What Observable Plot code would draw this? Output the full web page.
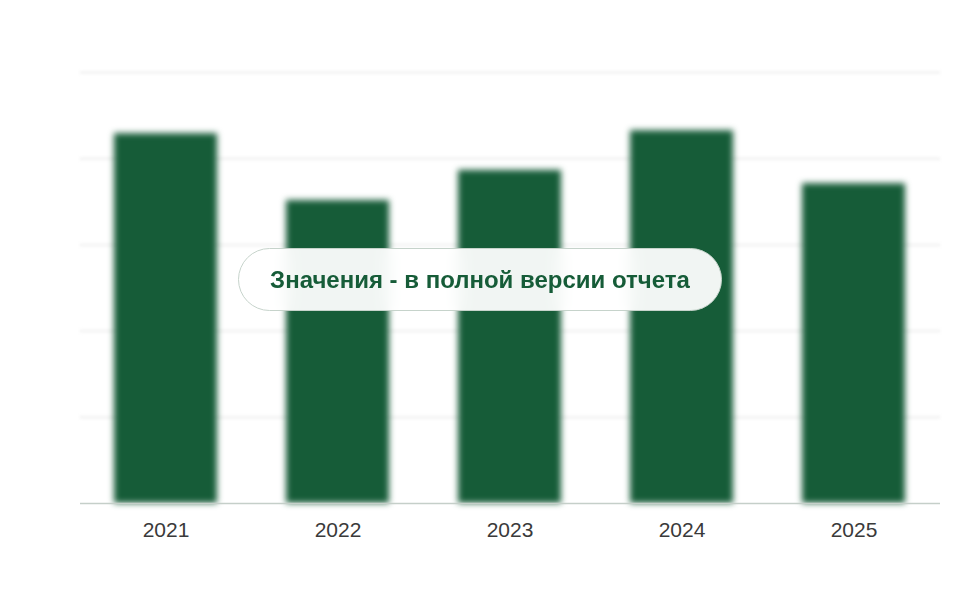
<!DOCTYPE html>
<html>
<head>
<meta charset="utf-8">
<script src="https://cdn.jsdelivr.net/npm/d3@7"></script>
<script src="https://cdn.jsdelivr.net/npm/@observablehq/plot@0.6"></script>
<style>
  html, body { margin: 0; padding: 0; background: #fff; }
  #wrap { position: relative; width: 960px; height: 600px; font-family: "Liberation Sans", Arial, sans-serif; }
  #wrap svg g[aria-label="bar"] { filter: blur(3px); }
  #wrap svg g[aria-label="rule"].grid { filter: blur(1.5px); }
  #note {
    position: absolute; left: 238px; top: 248px; width: 484px; height: 63px;
    box-sizing: border-box; border: 1.5px solid #c6d3cb; border-radius: 32px;
    background: rgba(255,255,255,0.94);
    backdrop-filter: blur(8px);
    display: flex; align-items: center; justify-content: center;
    color: #165c38; font-weight: bold; font-size: 24px;
    font-family: "Liberation Sans", Arial, sans-serif;
  }
</style>
</head>
<body>
<div id="wrap"></div>
<script>
const years = ["2021", "2022", "2023", "2024", "2025"];
const values = [85.8, 70.3, 77.3, 86.5, 74.2];
const gridTicks = [20, 40, 60, 80, 100];
const noteText = "Значения - в полной версии отчета";

const data = years.map((y, i) => ({year: y, value: values[i]}));

const chart = Plot.plot({
  width: 960,
  height: 600,
  marginLeft: 80,
  marginRight: 20,
  marginTop: 72,
  marginBottom: 97,
  style: {fontFamily: "Liberation Sans, Arial, sans-serif", fontSize: "21px", color: "#333", background: "#fff"},
  x: {domain: years, paddingInner: 0.4, paddingOuter: 0.2, label: null, axis: null},
  y: {domain: [0, 100], axis: null},
  marks: [
    Plot.ruleY(gridTicks, {stroke: "#f3f3f3", strokeWidth: 3, className: "grid"}),
    Plot.barY(data, {x: "year", y: "value", fill: "#165c38"}),
    Plot.ruleY([0], {stroke: "#c5cfc9", strokeWidth: 1.5}),
    Plot.axisX({tickSize: 0, tickPadding: 19, fontSize: 21, fill: "#3a3a3a", label: null})
  ]
});
document.getElementById("wrap").appendChild(chart);
const note = document.createElement("div");
note.id = "note";
note.textContent = noteText;
document.getElementById("wrap").appendChild(note);
</script>
</body>
</html>
